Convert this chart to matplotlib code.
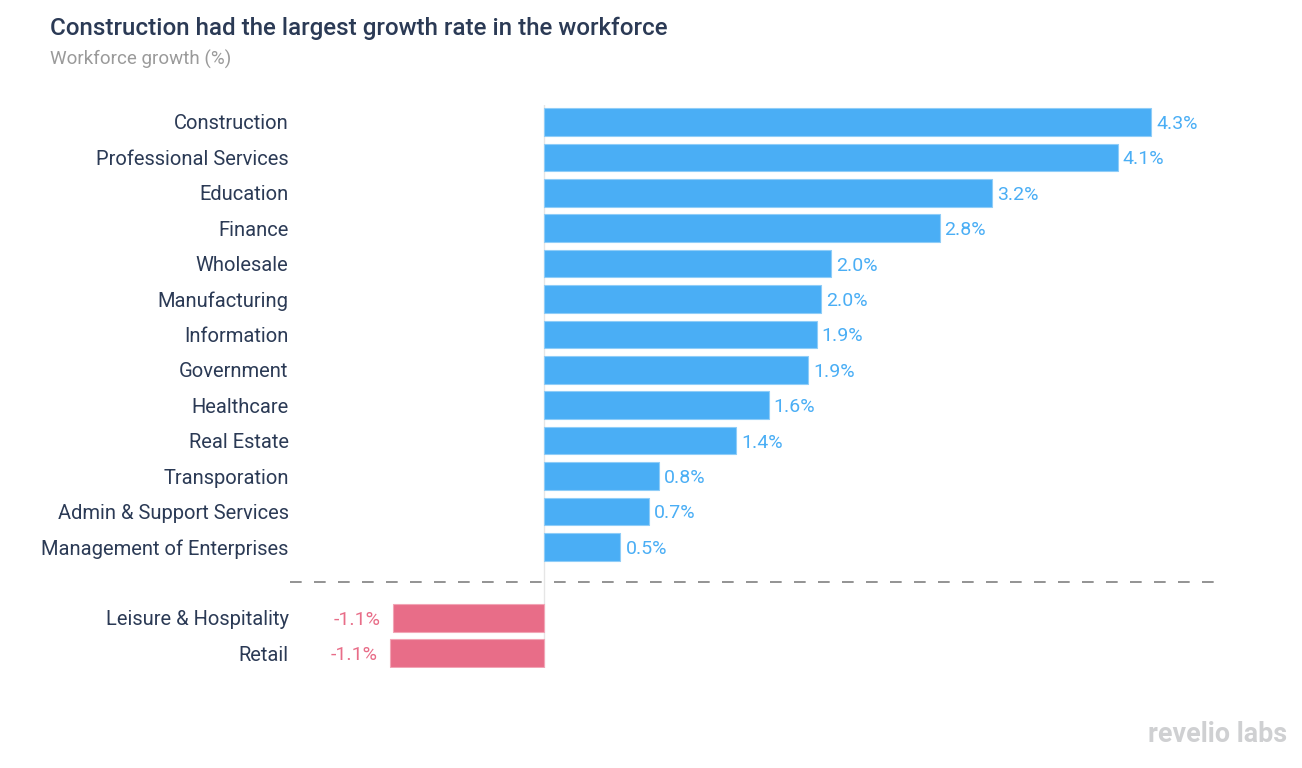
import matplotlib.pyplot as plt

plt.rcParams['font.family'] = ['Roboto', 'DejaVu Sans']

# Datos: crecimiento de la fuerza laboral por industria (%)
industrias = ['Construction', 'Professional Services', 'Education', 'Finance',
              'Wholesale', 'Manufacturing', 'Information', 'Government',
              'Healthcare', 'Real Estate', 'Transporation',
              'Admin & Support Services', 'Management of Enterprises']
crecimiento = [4.30, 4.06, 3.17, 2.80, 2.03, 1.96, 1.93, 1.87, 1.59, 1.36,
               0.81, 0.74, 0.54]

industrias_neg = ['Leisure & Hospitality', 'Retail']
crecimiento_neg = [-1.07, -1.09]

azul = '#4aaef5'
rosa = '#e86d88'
texto = '#2b3a55'

W, H = 1302, 768
fig = plt.figure(figsize=(W / 100, H / 100), dpi=100)

# Ejes en coordenadas de pixeles
x0, x1 = 290, 1222
y_top, y_bot = 105, 668
ax = fig.add_axes([x0 / W, 1 - y_bot / H, (x1 - x0) / W, (y_bot - y_top) / H])

pos = list(range(len(industrias)))
sep = len(industrias)
pos_neg = [sep + 1 + i for i in range(len(industrias_neg))]

ax.barh(pos, crecimiento, height=0.78, color=azul, edgecolor='#8fcdf8', linewidth=0.8)
ax.barh(pos_neg, crecimiento_neg, height=0.78, color=rosa, edgecolor='#f2a5b6', linewidth=0.8)

for p, v in zip(pos, crecimiento):
    ax.text(v + 0.035, p, f'{v:.1f}%', va='center_baseline', ha='left', color=azul, fontsize=14)
for p, v in zip(pos_neg, crecimiento_neg):
    ax.text(v - 0.09, p, f'{v:.1f}%', va='center_baseline', ha='right', color=rosa, fontsize=14)

ax.axvline(0, color='#e6e6e6', linewidth=1, zorder=0)
ax.axhline(sep, color='#808080', linewidth=1.2, dashes=(7.0, 7.4))

ax.set_xlim(-1.80, 4.80)
ax.set_ylim(15.42, -0.48)
ax.set_yticks(pos + pos_neg)
ax.set_yticklabels(industrias + industrias_neg, fontsize=14.5, color=texto)
ax.tick_params(axis='y', length=0, pad=1)
ax.set_xticks([])
for s in ax.spines.values():
    s.set_visible(False)

fig.text(50 / W, 1 - 28.5 / H, 'Construction had the largest growth rate in the workforce',
         fontsize=17.4, fontweight='medium', color=texto, va='center', ha='left')
fig.text(50 / W, 1 - 59.5 / H, 'Workforce growth (%)', fontsize=13.5, color='#9a9a9a',
         va='center', ha='left')
fig.text(1287 / W, 1 - 735 / H, 'revelio labs', fontsize=19.4, fontweight='bold',
         color='#cfd0d2', va='center', ha='right')

fig.savefig('out.png', dpi=100)
